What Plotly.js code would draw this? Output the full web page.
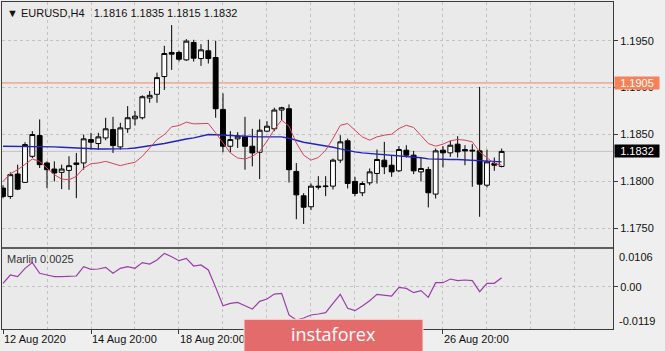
<!DOCTYPE html>
<html><head><meta charset="utf-8">
<script src="https://cdn.plot.ly/plotly-3.0.1.min.js"></script>
<style>html,body{margin:0;padding:0;background:#efefef;}#chart{width:665px;height:351px;}</style>
</head><body><div id="chart"></div>
<script>
// ---- data (EURUSD H4, 69 bars) ----
const openP = [1.17929,1.17840,1.18079,1.17990,1.18268,1.18489,1.18197,1.18132,1.18097,1.18118,1.18197,1.18197,1.18446,1.18404,1.18464,1.18554,1.18368,1.18561,1.18668,1.18679,1.18889,1.18929,1.19118,1.19375,1.19375,1.19296,1.19482,1.19310,1.19393,1.19321,1.18768,1.18375,1.18454,1.18475,1.18375,1.18311,1.18536,1.18561,1.18761,1.18775,1.18107,1.17847,1.17730,1.17950,1.17945,1.17950,1.18227,1.18433,1.18000,1.17879,1.17985,1.18085,1.18227,1.18173,1.18113,1.18333,1.18280,1.18102,1.18127,1.17865,1.18333,1.18305,1.18397,1.18340,1.18333,1.18326,1.17960,1.18191,1.1816];
const highP = [1.17960,1.18097,1.18179,1.18418,1.18536,1.18661,1.18214,1.18214,1.18179,1.18268,1.18304,1.18500,1.18518,1.18518,1.18679,1.18689,1.18625,1.18803,1.18750,1.18918,1.18964,1.19160,1.19446,1.19667,1.19393,1.19517,1.19510,1.19464,1.19510,1.19500,1.18939,1.18536,1.18525,1.18689,1.18561,1.18661,1.18643,1.18786,1.18796,1.18821,1.18196,1.17875,1.17978,1.18056,1.18056,1.18244,1.18493,1.18457,1.18049,1.18000,1.18138,1.18340,1.18422,1.18280,1.18376,1.18386,1.18326,1.18255,1.18156,1.18351,1.18376,1.18433,1.18482,1.18386,1.18397,1.19008,1.18340,1.18255,1.1835];
const lowP = [1.17820,1.17814,1.17907,1.17985,1.18250,1.18143,1.17929,1.18000,1.17918,1.17911,1.17822,1.18125,1.18339,1.18339,1.18439,1.18304,1.18339,1.18518,1.18596,1.18661,1.18839,1.18839,1.18975,1.19189,1.19278,1.19285,1.19278,1.19232,1.19257,1.18679,1.18311,1.18311,1.18357,1.18125,1.18161,1.18025,1.18525,1.18536,1.18654,1.17989,1.17597,1.17547,1.17694,1.17914,1.17843,1.17914,1.18198,1.17925,1.17843,1.17843,1.17960,1.17978,1.18078,1.18049,1.18102,1.18255,1.18078,1.18000,1.17723,1.17818,1.18149,1.18262,1.18255,1.18173,1.17943,1.17623,1.17936,1.18113,1.1815];
const closeP = [1.17840,1.18072,1.17918,1.18393,1.18500,1.18179,1.18125,1.18090,1.18132,1.18168,1.18182,1.18454,1.18418,1.18475,1.18561,1.18382,1.18571,1.18679,1.18696,1.18903,1.18918,1.19107,1.19364,1.19357,1.19303,1.19496,1.19314,1.19403,1.19310,1.18775,1.18375,1.18446,1.18482,1.18375,1.18304,1.18546,1.18589,1.18761,1.18786,1.18125,1.17857,1.17725,1.17950,1.17940,1.17950,1.18227,1.18422,1.17978,1.17872,1.17978,1.18102,1.18234,1.18156,1.18102,1.18340,1.18280,1.18113,1.18138,1.17879,1.18326,1.18305,1.18386,1.18315,1.18326,1.18326,1.17971,1.18209,1.18173,1.1832];
const slowMA = [1.18375,1.18375,1.18375,1.18375,1.18375,1.18372,1.18370,1.18368,1.18365,1.18360,1.18355,1.18350,1.18346,1.18346,1.18346,1.18346,1.18346,1.18350,1.18357,1.18368,1.18382,1.18393,1.18404,1.18420,1.18439,1.18452,1.18464,1.18482,1.18500,1.18497,1.18493,1.18488,1.18482,1.18478,1.18475,1.18475,1.18475,1.18475,1.18475,1.18460,1.18436,1.18418,1.18404,1.18393,1.18383,1.18365,1.18347,1.18330,1.18315,1.18305,1.18298,1.18294,1.18291,1.18284,1.18276,1.18269,1.18262,1.18252,1.18241,1.18237,1.18234,1.18234,1.18234,1.18230,1.18227,1.18224,1.18220,1.18215,1.18209];
const fastMA = [1.18000,1.18082,1.18125,1.18179,1.18239,1.18214,1.18143,1.18072,1.18025,1.18018,1.18054,1.18143,1.18189,1.18197,1.18214,1.18189,1.18168,1.18189,1.18204,1.18268,1.18357,1.18446,1.18500,1.18582,1.18596,1.18632,1.18614,1.18618,1.18618,1.18518,1.18411,1.18304,1.18250,1.18239,1.18268,1.18321,1.18429,1.18554,1.18654,1.18589,1.18411,1.18280,1.18227,1.18255,1.18333,1.18457,1.18599,1.18617,1.18546,1.18475,1.18440,1.18475,1.18493,1.18504,1.18564,1.18599,1.18575,1.18493,1.18404,1.18376,1.18397,1.18433,1.18447,1.18440,1.18422,1.18315,1.18255,1.18191,1.18173];
const marlin = [0.00094,0.00329,0.00282,0.00516,0.00676,0.00376,0.00329,0.00282,0.00282,0.00301,0.00301,0.00563,0.00488,0.00497,0.00544,0.00376,0.00516,0.00563,0.00516,0.00676,0.00638,0.00750,0.00938,0.00844,0.00732,0.00798,0.00582,0.00610,0.00470,-0.00019,-0.00535,-0.00469,-0.00441,-0.00535,-0.00629,-0.00413,-0.00348,-0.00207,-0.00188,-0.00796,-0.00940,-0.00880,-0.00796,-0.00768,-0.00731,-0.00468,-0.00215,-0.00609,-0.00674,-0.00543,-0.00393,-0.00215,-0.00234,-0.00262,-0.00018,-0.00047,-0.00168,-0.00112,-0.00299,0.00113,0.00113,0.00216,0.00169,0.00188,0.00169,-0.00140,0.00094,0.00094,0.00250];
const barIdx = openP.map((_, i) => i);
// labels at bars 36 and 48 sit under the logo in the reference, so they are left blank
const timeTickIdx = [0, 12, 24, 36, 48, 60];
const timeTickText = ['12 Aug 2020', '14 Aug 20:00', '18 Aug 20:00', '', '', '26 Aug 20:00'];
const priceTicks = [1.1750, 1.1800, 1.1850, 1.1900, 1.1950];
const priceTickText = ['1.1750', '1.1800', '1.1850', '1.1900', '1.1950'];
const marlinMax = 0.0106, marlinMin = -0.0119;
const alertLevel = 1.1905;
const lastPrice = 1.1832;
const header = '\u25BC EURUSD,H4\u00a0\u00a0 1.1816 1.1835 1.1815 1.1832';
const marlinLabel = 'Marlin 0.0025';

// ---- geometry ----
const W = 665, H = 351, mL = 2, mR = 52, mT = 2, mB = 22;
const pH = H - mT - mB, pW = W - mL - mR;
const bottomPx = H - mB;
const mainDomain = [(bottomPx - 247) / pH, 1];
const indDomain = [0, (bottomPx - 249) / pH];
const px2x = p => (p - mL) / pW;
const py2y = p => (bottomPx - p) / pH;

const FONT = 'Liberation Sans, Arial, sans-serif';
const TXT = '#111111';
const GRID = '#c2c2c2';
const FRAME = '#3a3a3a';

const traces = [
  {type: 'candlestick', x: barIdx, open: openP, high: highP, low: lowP, close: closeP,
   xaxis: 'x', yaxis: 'y', whiskerwidth: 0,
   increasing: {line: {color: '#000000', width: 1}, fillcolor: '#ffffff'},
   decreasing: {line: {color: '#000000', width: 1}, fillcolor: '#000000'},
   hoverinfo: 'skip', showlegend: false},
  {type: 'scatter', mode: 'lines', x: barIdx, y: slowMA, xaxis: 'x', yaxis: 'y',
   line: {color: '#2424b8', width: 1.4}, hoverinfo: 'skip', showlegend: false},
  {type: 'scatter', mode: 'lines', x: barIdx, y: fastMA, xaxis: 'x', yaxis: 'y',
   line: {color: '#d2435c', width: 1}, hoverinfo: 'skip', showlegend: false},
  {type: 'scatter', mode: 'lines', x: barIdx, y: marlin, xaxis: 'x2', yaxis: 'y2',
   line: {color: '#9a3ea8', width: 1.2}, hoverinfo: 'skip', showlegend: false}
];

const xRange = [(mL - 3) / 7.333, (mL + pW - 3) / 7.333];
const gridCommon = {showgrid: true, gridcolor: GRID, griddash: '3px,3px', gridwidth: 1};
const minorGrid = {tick0: 0, dtick: 6, showgrid: true, gridcolor: GRID, griddash: '3px,3px', ticks: ''};

const layout = {
  width: W, height: H,
  margin: {l: mL, r: mR, t: mT, b: mB, pad: 0},
  paper_bgcolor: '#efefef', plot_bgcolor: '#eaeaea',
  font: {family: FONT, size: 11, color: TXT},
  showlegend: false,
  boxgap: 0.34, boxgroupgap: 0,
  xaxis: Object.assign({domain: [0, 1], anchor: 'y', range: xRange, tickmode: 'array',
    tickvals: timeTickIdx, showticklabels: false, ticks: '', zeroline: false,
    showline: true, mirror: true, linecolor: FRAME, linewidth: 1,
    rangeslider: {visible: false}, minor: minorGrid}, gridCommon),
  yaxis: Object.assign({domain: mainDomain, anchor: 'x', side: 'right', range: [1.17301, 1.19913],
    tickmode: 'array', tickvals: priceTicks, ticktext: priceTickText, ticks: 'outside', ticklen: 4,
    tickcolor: FRAME, zeroline: false, showline: true, mirror: true, linecolor: FRAME, linewidth: 1,
    tickfont: {family: FONT, size: 11, color: TXT}}, gridCommon),
  xaxis2: Object.assign({domain: [0, 1], anchor: 'y2', matches: 'x', range: xRange, tickmode: 'array',
    tickvals: timeTickIdx, ticktext: timeTickText, ticks: 'outside', ticklen: 4, tickcolor: FRAME,
    ticklabelposition: 'outside right', zeroline: false,
    showline: true, mirror: true, linecolor: FRAME, linewidth: 1, minor: minorGrid,
    tickfont: {family: FONT, size: 11, color: TXT}}, gridCommon),
  yaxis2: Object.assign({domain: indDomain, anchor: 'x2', side: 'right', range: [marlinMin, marlinMax],
    tickmode: 'array', tickvals: [0], ticktext: ['0.00'], ticks: 'outside', ticklen: 4, tickcolor: FRAME,
    zeroline: false, showline: true, mirror: true, linecolor: FRAME, linewidth: 1,
    tickfont: {family: FONT, size: 11, color: TXT}}, gridCommon),
  shapes: [
    {type: 'line', xref: 'paper', yref: 'y', x0: 0, x1: 1, y0: lastPrice, y1: lastPrice,
     line: {color: '#c4c4c4', width: 1}, layer: 'below'},
    {type: 'line', xref: 'paper', yref: 'y', x0: 0, x1: 1, y0: alertLevel, y1: alertLevel,
     line: {color: '#f2845e', width: 1}, layer: 'below'},
    {type: 'line', xref: 'paper', yref: 'paper', x0: 0, x1: 1, y0: py2y(248), y1: py2y(248),
     line: {color: '#6a6a6a', width: 1.5}, layer: 'above'},
    {type: 'rect', xref: 'paper', yref: 'paper', x0: px2x(244), x1: px2x(423), y0: py2y(353), y1: py2y(319.3),
     fillcolor: '#e46b6c', line: {color: '#f6dede', width: 1}, layer: 'above'}
  ],
  annotations: [
    {xref: 'paper', yref: 'paper', x: px2x(5), y: py2y(12.5), xanchor: 'left', yanchor: 'middle',
     text: header, showarrow: false, font: {family: FONT, size: 11, color: TXT}},
    {xref: 'paper', yref: 'paper', x: px2x(5), y: py2y(259), xanchor: 'left', yanchor: 'middle',
     text: marlinLabel, showarrow: false, font: {family: FONT, size: 11, color: '#333333'}},
    {xref: 'paper', yref: 'y2', x: 1, y: marlinMax, xanchor: 'left', yanchor: 'top', xshift: 4,
     text: '0.0106', showarrow: false, font: {family: FONT, size: 11, color: TXT}},
    {xref: 'paper', yref: 'y2', x: 1, y: marlinMin, xanchor: 'left', yanchor: 'bottom', xshift: 4,
     text: '-0.0119', showarrow: false, font: {family: FONT, size: 11, color: TXT}},
    {xref: 'paper', yref: 'y', x: 1, y: alertLevel, xanchor: 'left', yanchor: 'middle', xshift: 1,
     text: alertLevel.toFixed(4), showarrow: false, bgcolor: '#f7825a', borderpad: 2, width: 40, height: 8,
     font: {family: FONT, size: 11, color: '#ffffff'}},
    {xref: 'paper', yref: 'y', x: 1, y: lastPrice, xanchor: 'left', yanchor: 'middle', xshift: 1,
     text: lastPrice.toFixed(4), showarrow: false, bgcolor: '#000000', borderpad: 2, width: 40, height: 8,
     font: {family: FONT, size: 11, color: '#ffffff'}},
    {xref: 'paper', yref: 'paper', x: px2x(333), y: py2y(334), xanchor: 'center', yanchor: 'middle',
     text: 'instaforex', showarrow: false, font: {family: 'Open Sans, Noto Sans, sans-serif', size: 18, color: '#ffffff'}}
  ]
};

Plotly.newPlot('chart', traces, layout, {staticPlot: true, displayModeBar: false});
</script></body></html>
